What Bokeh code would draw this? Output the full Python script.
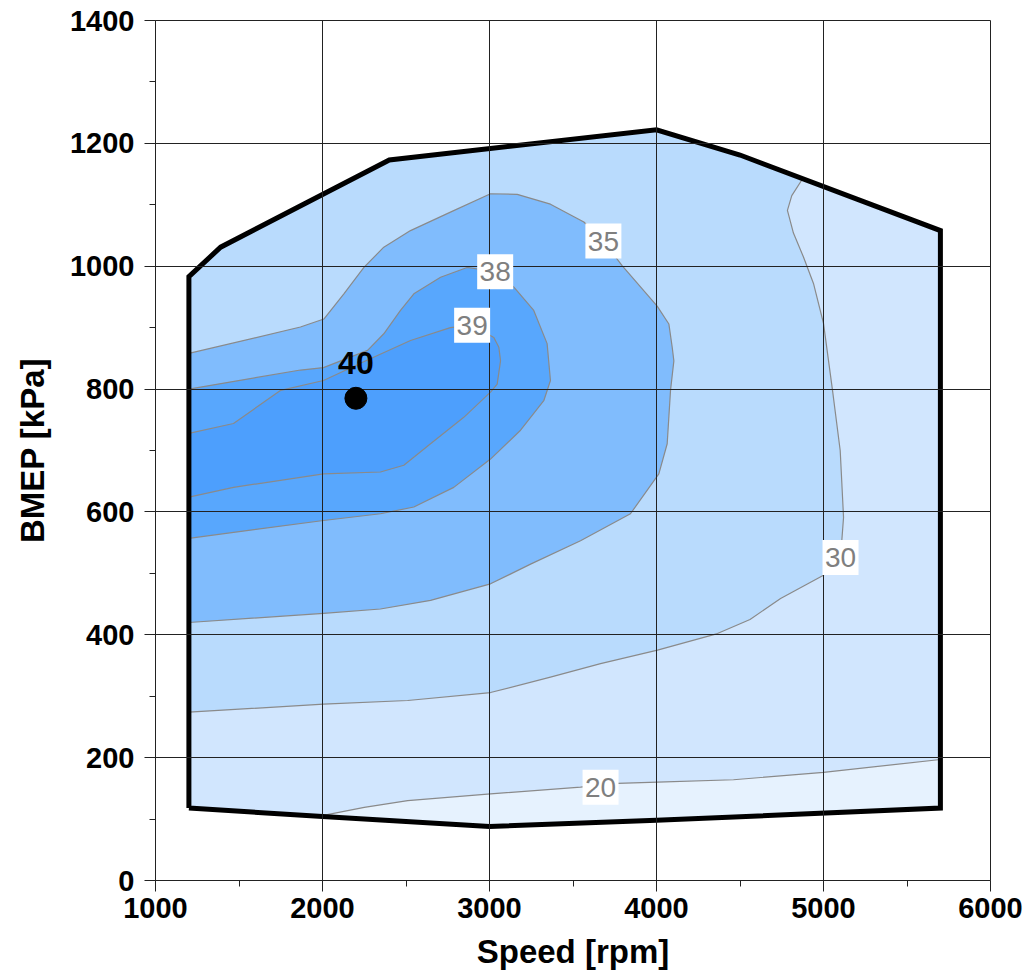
from bokeh.plotting import figure
from bokeh.models import Range1d, FixedTicker, Label
from bokeh.core.properties import value
from bokeh.embed import file_html
from bokeh.resources import INLINE

# ---------------- data ----------------
# operating boundary (thick outline), rpm / kPa
bound_x = [1200, 1200, 1390, 2400, 4000, 4500, 5700, 5700, 4000, 3000, 2000, 1200]
bound_y = [118, 983, 1031, 1173, 1222, 1181, 1058, 118, 98, 88, 104, 118]

# contour lines (efficiency %)
c20_x = [2006, 2250, 2510, 3006, 3545, 3766, 4006, 4461, 5000, 5700]
c20_y = [106, 119, 130, 141, 152, 158, 160, 164, 176, 197]

c30_x = [1200, 2006, 2510, 3006, 3365, 3665, 4006, 4365, 4560, 4743, 5000, 5102, 5120,
         5100, 5054, 5000, 4940, 4880, 4820, 4784, 4810, 4874]
c30_y = [274, 287, 293, 306, 331, 353, 375, 402, 425, 459, 497, 526, 591,
         700, 798, 907, 972, 1015, 1054, 1091, 1115, 1142]

c35_x = [1200, 2006, 2347, 2647, 3006, 3246, 3545, 3844, 4014, 4064, 4084, 4104,
         4094, 4074, 4004, 3794, 3682, 3565, 3365, 3166, 3006, 2766, 2527, 2367,
         2248, 2128, 2008, 1868, 1200]
c35_y = [420, 435, 442, 456, 483, 515, 553, 597, 662, 711, 798, 846,
         868, 906, 935, 1001, 1041, 1072, 1101, 1117, 1118, 1088, 1058, 1031,
         998, 955, 914, 901, 858]

c38_x = [1200, 2006, 2347, 2547, 2786, 3006, 3186, 3325, 3365, 3345, 3265, 3146,
         3034, 2866, 2707, 2547, 2467, 2367, 2270, 2006, 1868, 1200]
c38_y = [557, 586, 597, 608, 640, 686, 733, 781, 814, 874, 928, 966,
         991, 998, 982, 955, 928, 890, 863, 835, 831, 800]

c39_x = [1200, 1467, 2006, 2347, 2487, 2647, 2846, 3006, 3046, 3066, 3056, 3026,
         2896, 2766, 2527, 2250, 2006, 1750, 1467, 1200]
c39_y = [624, 640, 662, 665, 676, 711, 754, 795, 808, 846, 868, 884,
         904, 900, 879, 845, 814, 798, 744, 728]

# contour labels
lab_text = ["20", "30", "35", "38", "39"]
lab_x = [3665, 5102, 3682, 3034, 2896]
lab_y = [152, 526, 1041, 991, 904]

# best efficiency point
best_x = [2200]
best_y = [785]
best_text = "40"

x_ticks = [1000, 2000, 3000, 4000, 5000, 6000]
x_minor = [1500, 2500, 3500, 4500, 5500]
y_ticks = [0, 200, 400, 600, 800, 1000, 1200, 1400]
y_minor = [100, 300, 500, 700, 900, 1100, 1300]

# ---------------- colours ----------------
col_lt20 = "#e6f2fe"
col_20_30 = "#d1e6fe"
col_30_35 = "#b9dbfd"
col_35_38 = "#80bcfd"
col_38_39 = "#58a7fd"
col_gt39 = "#4d9ffd"

FONT = "Liberation Sans"

p = figure(width=1023, height=973, output_backend="svg", toolbar_location=None,
           x_range=Range1d(1000, 6000), y_range=Range1d(0, 1400),
           min_border_left=155, min_border_right=33, min_border_top=20,
           min_border_bottom=93)
p.outline_line_color = "#222222"
p.background_fill_color = "white"

# filled bands
p.patch(bound_x, bound_y, fill_color=col_20_30, line_color=None)
poly20_x = c20_x + [5700, 4000, 3000]
poly20_y = c20_y + [118, 98, 88]
p.patch(poly20_x, poly20_y, fill_color=col_lt20, line_color=None)
poly30_x = c30_x + [4500, 4000, 2400, 1390, 1200]
poly30_y = c30_y + [1181, 1222, 1173, 1031, 983]
p.patch(poly30_x, poly30_y, fill_color=col_30_35, line_color=None)
p.patch(c35_x, c35_y, fill_color=col_35_38, line_color=None)
p.patch(c38_x, c38_y, fill_color=col_38_39, line_color=None)
p.patch(c39_x, c39_y, fill_color=col_gt39, line_color=None)

# contour lines
p.multi_line([c20_x, c30_x, c35_x, c38_x, c39_x], [c20_y, c30_y, c35_y, c38_y, c39_y],
             line_color="#8a8a8a", line_width=1.2, line_join="round")

# boundary
p.line(bound_x, bound_y, line_color="black", line_width=5, line_join="miter")

# grid
for g in (p.xgrid, p.ygrid):
    g.grid_line_color = "#222222"
    g.grid_line_width = 1
    g.level = "guide"
p.xgrid.ticker = FixedTicker(ticks=x_ticks)
p.ygrid.ticker = FixedTicker(ticks=y_ticks)

# axes
p.xaxis.ticker = FixedTicker(ticks=x_ticks, minor_ticks=x_minor)
p.yaxis.ticker = FixedTicker(ticks=y_ticks, minor_ticks=y_minor)
for ax in (p.xaxis, p.yaxis):
    ax.axis_line_color = "#222222"
    ax.major_tick_line_color = "#222222"
    ax.minor_tick_line_color = "#222222"
    ax.major_tick_in = 0
    ax.major_tick_out = 11
    ax.minor_tick_in = 0
    ax.minor_tick_out = 6
    ax.major_label_text_font = FONT
    ax.major_label_text_font_size = "29px"
    ax.major_label_text_font_style = "bold"
    ax.major_label_text_color = "black"
    ax.axis_label_text_font = FONT
    ax.axis_label_text_font_size = "33px"
    ax.axis_label_text_font_style = "bold"
    ax.axis_label_text_color = "black"
p.xaxis.axis_label = "Speed [rpm]"
p.yaxis.axis_label = "BMEP [kPa]"
p.xaxis.major_label_standoff = 6
p.yaxis.major_label_standoff = 10
p.xaxis.axis_label_standoff = 12
p.yaxis.axis_label_standoff = 16

# contour labels (white boxes + grey text)
p.rect(lab_x, lab_y, width=36, height=35, width_units="screen", height_units="screen",
       fill_color="white", line_color=None, level="annotation")
p.text(lab_x, lab_y, text=lab_text, text_align="center", text_baseline="middle",
       text_font=value(FONT), text_font_size="28px", text_color="#7f7f7f",
       level="annotation")

# best point
p.scatter(best_x, best_y, size=22, fill_color="black", line_color="black", level="annotation")
p.add_layout(Label(x=best_x[0], y=best_y[0], text=best_text, text_align="center",
                   text_baseline="bottom", y_offset=24, text_font=FONT,
                   text_font_size="32px", text_font_style="bold", text_color="black"))

open("out.html", "w").write(file_html(p, INLINE))
